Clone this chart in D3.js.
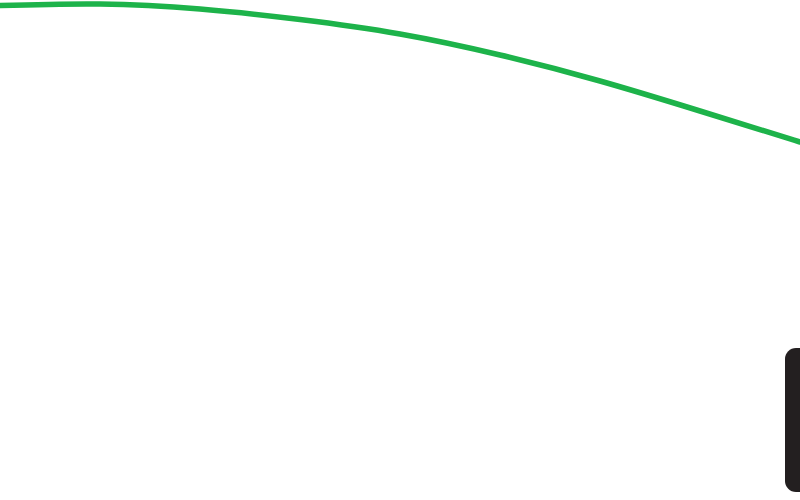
<!DOCTYPE html>
<html>
<head>
<meta charset="utf-8">
<script src="https://cdn.jsdelivr.net/npm/d3@7"></script>
<style>
  html, body { margin: 0; padding: 0; background: #fff; }
  svg { display: block; }
</style>
</head>
<body>
<div id="chart"></div>
<script>
// curve samples (x position, depth from top)
const curveX = [0, 100, 200, 300, 400, 500, 600, 700, 800];
const curveY = [5.5, 4, 9, 19.5, 34, 55, 81, 111, 142];

// dark box at lower right
const boxX = [785];
const boxY = [348];
const boxW = [40];
const boxH = [144];

const width = 800;
const height = 500;

const svg = d3.select("#chart").append("svg")
  .attr("width", width)
  .attr("height", height);

const x = d3.scaleLinear().domain([0, 800]).range([0, width]);
const y = d3.scaleLinear().domain([0, 500]).range([0, height]);

const points = curveX.map((d, i) => ({ x: d, y: curveY[i] }));

const line = d3.line()
  .x(d => x(d.x))
  .y(d => y(d.y))
  .curve(d3.curveNatural);

svg.append("path")
  .datum(points)
  .attr("fill", "none")
  .attr("stroke", "#1db34a")
  .attr("stroke-width", 5.5)
  .attr("stroke-linecap", "round")
  .attr("d", line);

const boxes = boxX.map((d, i) => ({ x: d, y: boxY[i], w: boxW[i], h: boxH[i] }));

svg.selectAll(".box")
  .data(boxes)
  .enter().append("rect")
  .attr("class", "box")
  .attr("x", d => x(d.x))
  .attr("y", d => y(d.y))
  .attr("width", d => x(d.w) - x(0))
  .attr("height", d => y(d.h) - y(0))
  .attr("rx", 11)
  .attr("fill", "#231f20");
</script>
</body>
</html>
